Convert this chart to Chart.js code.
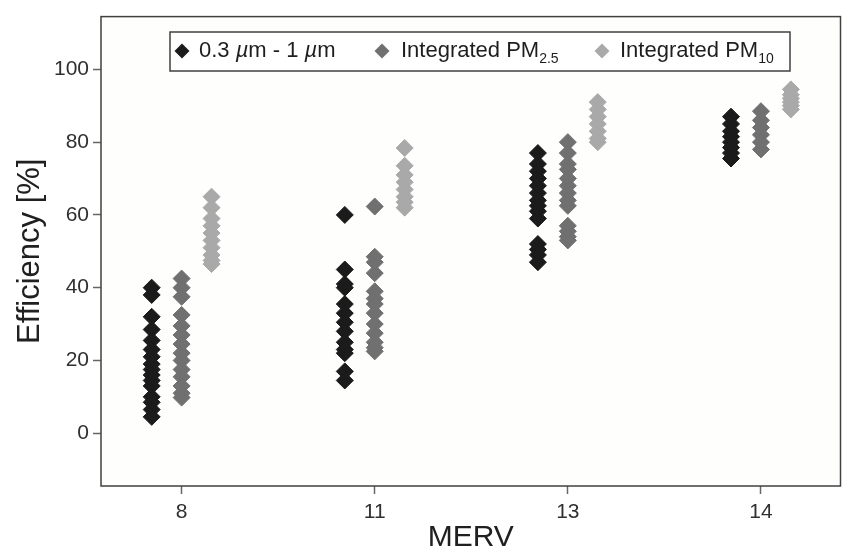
<!DOCTYPE html>
<html>
<head>
<meta charset="utf-8">
<script src="https://cdn.jsdelivr.net/npm/chart.js@4/dist/chart.umd.min.js"></script>
<style>
  html, body { margin: 0; padding: 0; background: #ffffff; }
  #wrap { width: 850px; height: 556px; position: relative; }
</style>
</head>
<body>
<div id="wrap"><canvas id="c" width="850" height="556"></canvas></div>
<script>
// ---- data ----
const mervLabels = ['8', '11', '13', '14'];
const yTickValues = [0, 20, 40, 60, 80, 100];

// 0.3 µm - 1 µm, per MERV class
const fine_8  = [40, 38, 32, 28.5, 25.5, 23, 21, 19, 17.5, 16, 14.5, 13, 10, 8.5, 6.5, 4.5];
const fine_11 = [60, 45, 41, 40, 35.5, 33, 30.5, 28, 25, 23, 22, 17, 14.5];
const fine_13 = [77, 74, 72, 70, 68, 66, 64, 62.5, 61, 59, 52, 50.5, 49, 47];
const fine_14 = [87, 85, 83, 81.5, 80, 78.5, 77, 75.5];

// Integrated PM2.5
const pm25_8  = [42.5, 40, 37.5, 32.5, 29.5, 27, 24.5, 22, 20, 17.5, 15.5, 13, 11, 9.8];
const pm25_11 = [62.3, 48.5, 47, 44, 39, 37, 35.5, 33, 30, 27.5, 25, 23.5, 22.5];
const pm25_13 = [80, 77, 74, 72.5, 70, 68, 66, 64, 62.5, 57, 55.5, 54, 53];
const pm25_14 = [88.5, 86, 84, 82, 80, 78];

// Integrated PM10
const pm10_8  = [65, 62, 59, 57, 55, 53, 51, 49, 47.5, 46.5];
const pm10_11 = [78.4, 73.5, 71, 69, 67, 65, 63.5, 62];
const pm10_13 = [91, 89, 87, 85, 83, 81, 80];
const pm10_14 = [94.5, 93, 92, 91, 90, 89];

const fineVals = [fine_8, fine_11, fine_13, fine_14];
const pm25Vals = [pm25_8, pm25_11, pm25_13, pm25_14];
const pm10Vals = [pm10_8, pm10_11, pm10_13, pm10_14];

// ---- build datasets (series placed side by side around each category) ----
const DODGE = 0.155;
function toPoints(groups, offset) {
  const pts = [];
  groups.forEach((vals, i) => vals.forEach(v => pts.push({ x: i + offset, y: v })));
  return pts;
}
const colors = ['#1b1b1b', '#707070', '#a9a9a9'];
const series = [
  { label: '0.3 µm - 1 µm', groups: fineVals, offset: -DODGE },
  { label: 'Integrated PM2.5', groups: pm25Vals, offset: 0 },
  { label: 'Integrated PM10', groups: pm10Vals, offset: DODGE }
];
const datasets = series.map((s, k) => ({
  label: s.label,
  data: toPoints(s.groups, s.offset),
  pointStyle: 'rectRot',
  pointRadius: 8.5,
  pointHoverRadius: 8.5,
  backgroundColor: colors[k],
  borderColor: colors[k],
  borderWidth: 1
}));

const FONT = "'Liberation Sans', Arial, Helvetica, sans-serif";

const framePlugin = {
  id: 'frame',
  beforeDraw(chart) {
    const { ctx, chartArea: a } = chart;
    ctx.save();
    ctx.fillStyle = '#ffffff';
    ctx.fillRect(0, 0, chart.width, chart.height);
    ctx.fillStyle = '#fefefd';
    ctx.fillRect(a.left, a.top, a.right - a.left, a.bottom - a.top);
    ctx.restore();
  },
  afterDatasetsDraw(chart) {
    const { ctx, chartArea: a } = chart;
    ctx.save();
    ctx.strokeStyle = '#404040';
    ctx.lineWidth = 1.5;
    ctx.strokeRect(a.left, a.top, a.right - a.left, a.bottom - a.top);
    ctx.restore();
  }
};

function diamond(ctx, x, y, r, color) {
  ctx.beginPath();
  ctx.moveTo(x, y - r); ctx.lineTo(x + r, y); ctx.lineTo(x, y + r); ctx.lineTo(x - r, y);
  ctx.closePath();
  ctx.fillStyle = color;
  ctx.fill();
}

const legendPlugin = {
  id: 'subLegend',
  afterDraw(chart) {
    const { ctx } = chart;
    const left = 170, top = 32, right = 790, bottom = 71;
    ctx.save();
    ctx.fillStyle = '#ffffff';
    ctx.fillRect(left, top, right - left, bottom - top);
    ctx.strokeStyle = '#404040';
    ctx.lineWidth = 1.5;
    ctx.strokeRect(left, top, right - left, bottom - top);
    const cy = 51;
    const normal = '22px ' + FONT;
    const italic = 'italic 22px ' + FONT;
    const small = '14px ' + FONT;
    ctx.textBaseline = 'middle';
    ctx.textAlign = 'left';
    function runs(x, parts) {
      parts.forEach(p => {
        ctx.font = p.f;
        ctx.fillText(p.t, x, cy + (p.dy || 0));
        x += ctx.measureText(p.t).width;
      });
      return x;
    }
    diamond(ctx, 182, cy, 7.5, colors[0]);
    ctx.fillStyle = '#1e1e1e';
    runs(199, [
      { t: '0.3 ', f: normal }, { t: 'µ', f: italic }, { t: 'm - 1 ', f: normal },
      { t: 'µ', f: italic }, { t: 'm', f: normal }
    ]);
    diamond(ctx, 382, cy, 7.5, colors[1]);
    ctx.fillStyle = '#1e1e1e';
    runs(401, [{ t: 'Integrated PM', f: normal }, { t: '2.5', f: small, dy: 8 }]);
    diamond(ctx, 602, cy, 7.5, colors[2]);
    ctx.fillStyle = '#1e1e1e';
    runs(620, [{ t: 'Integrated PM', f: normal }, { t: '10', f: small, dy: 8 }]);
    ctx.restore();
  }
};

new Chart(document.getElementById('c'), {
  type: 'scatter',
  data: { datasets },
  plugins: [framePlugin, legendPlugin],
  options: {
    responsive: false,
    animation: false,
    events: [],
    layout: { padding: { left: 0, top: 14, right: 6, bottom: 0 } },
    plugins: { legend: { display: false }, tooltip: { enabled: false } },
    scales: {
      x: {
        type: 'linear',
        min: -0.4175,
        max: 3.412,
        afterBuildTicks(s) { s.ticks = mervLabels.map((_, i) => ({ value: i })); },
        afterFit(s) { s.height = 70; },
        ticks: {
          callback: v => mervLabels[v],
          color: '#303030',
          font: { family: FONT, size: 21 },
          padding: 6,
          maxRotation: 0
        },
        grid: { drawOnChartArea: false, tickLength: 8, tickColor: '#666', tickWidth: 1.5 },
        border: { display: false },
        title: {
          display: true,
          text: 'MERV',
          color: '#202020',
          font: { family: FONT, size: 30 },
          padding: { top: 0, bottom: 0 }
        }
      },
      y: {
        min: -14.5,
        max: 114.5,
        afterBuildTicks(s) { s.ticks = yTickValues.map(v => ({ value: v })); },
        afterFit(s) { s.width = 101; },
        ticks: {
          color: '#303030',
          font: { family: FONT, size: 21 },
          padding: 4
        },
        grid: { drawOnChartArea: false, tickLength: 8, tickColor: '#666', tickWidth: 1.5 },
        border: { display: false },
        title: {
          display: true,
          text: 'Efficiency [%]',
          color: '#202020',
          font: { family: FONT, size: 31 },
          padding: { top: 12, bottom: 0 }
        }
      }
    }
  }
});
</script>
</body>
</html>
